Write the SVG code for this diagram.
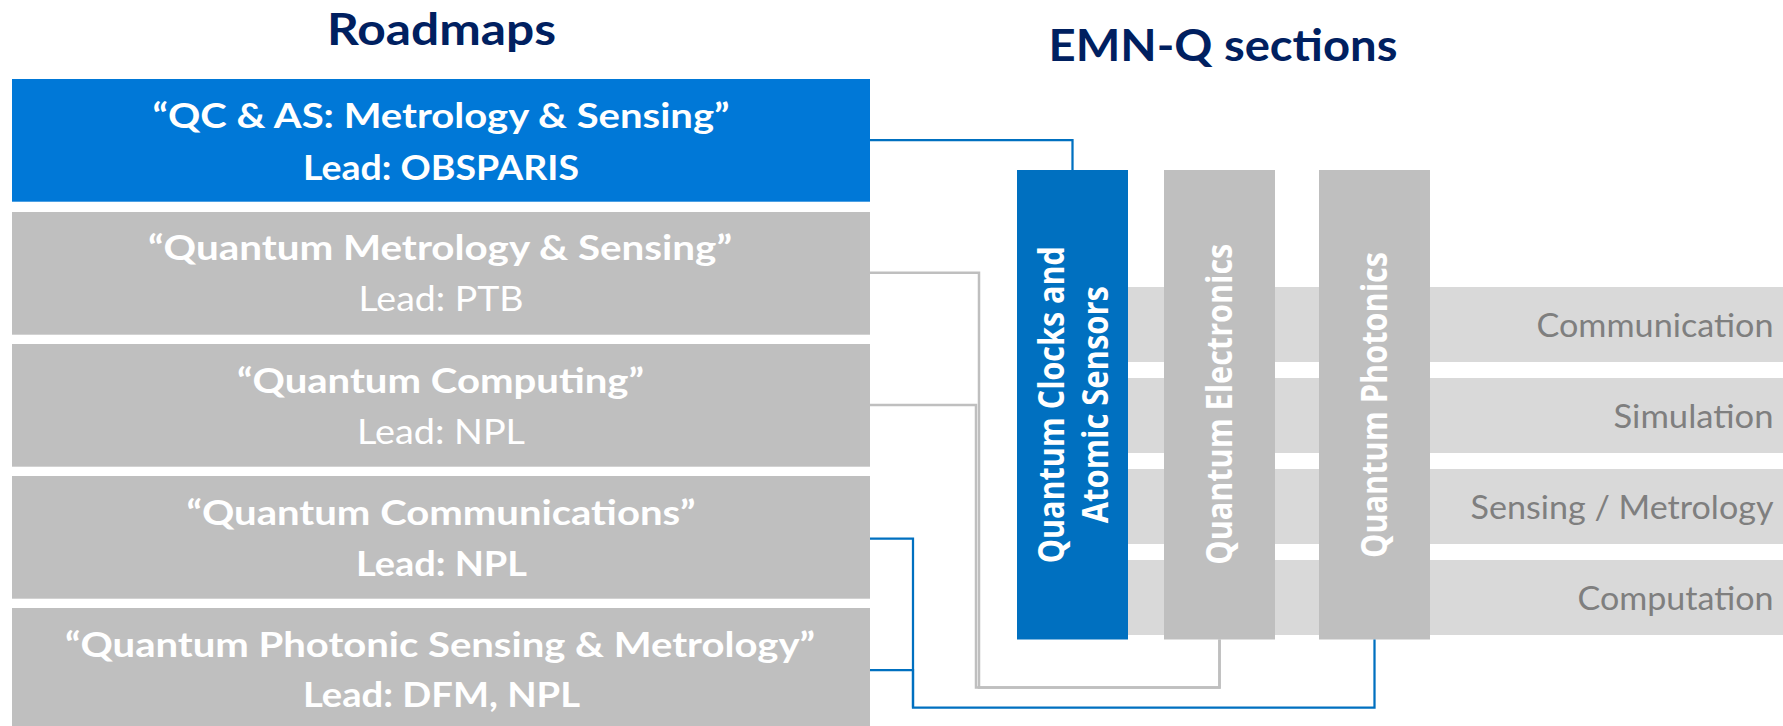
<svg xmlns="http://www.w3.org/2000/svg" width="1783" height="726" viewBox="0 0 1783 726">
<style>
.title{font-family:Lato,"Liberation Sans",sans-serif;font-weight:700;font-size:43px;fill:#002060;text-anchor:middle}
.bx{font-family:Lato,"Liberation Sans",sans-serif;font-size:35px;fill:#ffffff;text-anchor:middle}
.b{font-weight:700}
.r{font-weight:400}
.col{font-family:"Open Sans","DejaVu Sans",sans-serif;font-weight:700;font-size:35px;fill:#ffffff;text-anchor:middle}
.row{font-family:Lato,"Liberation Sans",sans-serif;font-size:32px;fill:#7f7f7f;text-anchor:end}
.band{fill:#d9d9d9}
.gbox{fill:#bfbfbf}
.bluebox{fill:#0078d7}
.bluecol{fill:#0070c0}
.cb{fill:none;stroke:#0070c0;stroke-width:2.25}
.cg{fill:none;stroke:#bfbfbf;stroke-width:2.5}
</style>

<text class="title" x="441.5" y="45" textLength="229" lengthAdjust="spacingAndGlyphs">Roadmaps</text>
<text class="title" x="1223" y="61" textLength="349" lengthAdjust="spacingAndGlyphs">EMN-Q sections</text>

<g id="rows">
  <g id="row-communication">
    <rect class="band" x="1128" y="287" width="655" height="75"/>
    <text class="row" x="1773.5" y="337" textLength="237" lengthAdjust="spacingAndGlyphs">Communication</text>
  </g>
  <g id="row-simulation">
    <rect class="band" x="1128" y="378" width="655" height="75"/>
    <text class="row" x="1773.5" y="427.5" textLength="160" lengthAdjust="spacingAndGlyphs">Simulation</text>
  </g>
  <g id="row-sensing">
    <rect class="band" x="1128" y="469" width="655" height="75"/>
    <text class="row" x="1773.5" y="518.5" textLength="303" lengthAdjust="spacingAndGlyphs">Sensing / Metrology</text>
  </g>
  <g id="row-computation">
    <rect class="band" x="1128" y="560" width="655" height="75"/>
    <text class="row" x="1773.5" y="609.5" textLength="196" lengthAdjust="spacingAndGlyphs">Computation</text>
  </g>
</g>

<g id="col-clocks">
  <rect class="bluecol" x="1017" y="170" width="111" height="469.5"/>
  <text class="col" transform="translate(1063.5,404.7) rotate(-90)" x="0" y="0" textLength="317" lengthAdjust="spacingAndGlyphs">Quantum Clocks and</text>
  <text class="col" transform="translate(1108,404.7) rotate(-90)" x="0" y="0" textLength="237" lengthAdjust="spacingAndGlyphs">Atomic Sensors</text>
</g>
<g id="col-electronics">
  <rect class="gbox" x="1164" y="170" width="111" height="469.5"/>
  <text class="col" transform="translate(1232.3,404.2) rotate(-90)" x="0" y="0" textLength="321" lengthAdjust="spacingAndGlyphs">Quantum Electronics</text>
</g>
<g id="col-photonics">
  <rect class="gbox" x="1319" y="170" width="111" height="469.5"/>
  <text class="col" transform="translate(1386.7,405) rotate(-90)" x="0" y="0" textLength="306" lengthAdjust="spacingAndGlyphs">Quantum Photonics</text>
</g>

<g id="roadmap-qcas">
  <rect class="bluebox" x="12" y="79" width="858" height="122.7"/>
  <text class="bx b" x="441" y="128" textLength="577" lengthAdjust="spacingAndGlyphs">“QC &amp; AS: Metrology &amp; Sensing”</text>
  <text class="bx b" x="441" y="180" textLength="276" lengthAdjust="spacingAndGlyphs">Lead: OBSPARIS</text>
</g>
<g id="roadmap-metrology">
  <rect class="gbox" x="12" y="212" width="858" height="122.7"/>
  <text class="bx b" x="440" y="259.5" textLength="584" lengthAdjust="spacingAndGlyphs">“Quantum Metrology &amp; Sensing”</text>
  <text class="bx r" x="441" y="311" textLength="165" lengthAdjust="spacingAndGlyphs">Lead: PTB</text>
</g>
<g id="roadmap-computing">
  <rect class="gbox" x="12" y="344" width="858" height="122.7"/>
  <text class="bx b" x="440.5" y="392.5" textLength="407" lengthAdjust="spacingAndGlyphs">“Quantum Computing”</text>
  <text class="bx r" x="441" y="444" textLength="168" lengthAdjust="spacingAndGlyphs">Lead: NPL</text>
</g>
<g id="roadmap-communications">
  <rect class="gbox" x="12" y="476" width="858" height="122.7"/>
  <text class="bx b" x="441" y="525" textLength="509" lengthAdjust="spacingAndGlyphs">“Quantum Communications”</text>
  <text class="bx b" x="441.5" y="576" textLength="171" lengthAdjust="spacingAndGlyphs">Lead: NPL</text>
</g>
<g id="roadmap-photonic">
  <rect class="gbox" x="12" y="608" width="858" height="123"/>
  <text class="bx b" x="440" y="657" textLength="750" lengthAdjust="spacingAndGlyphs">“Quantum Photonic Sensing &amp; Metrology”</text>
  <text class="bx b" x="441.5" y="707" textLength="277" lengthAdjust="spacingAndGlyphs">Lead: DFM, NPL</text>
</g>

<g id="connectors">
  <path class="cb" d="M870,140 H1072.5 V170"/>
  <path class="cg" d="M870,272.7 H979 V687.5 H1219.5 V639.5"/>
  <path class="cg" d="M870,405 H976 V687.5 H1219.5 V639.5"/>
  <path class="cb" d="M870,538.5 H913 V707.5 H1374.5 V639.5"/>
  <path class="cb" d="M870,670 H913 V707.5"/>
</g>
</svg>
